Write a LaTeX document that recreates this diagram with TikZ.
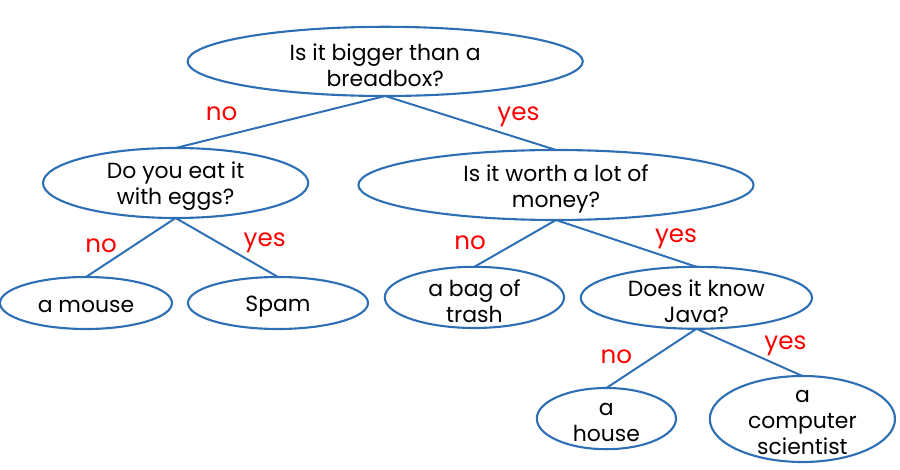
\documentclass[tikz,border=0pt]{standalone}
\usepackage{fontspec}
\setmainfont{Poppins}
\usepackage{tikz}
\usetikzlibrary{shapes.geometric}
\definecolor{qblue}{RGB}{46,110,180}
\definecolor{ansred}{RGB}{255,0,0}

\begin{document}
\begin{tikzpicture}[
  q/.style = {ellipse, draw=qblue, line width=1.5pt, inner sep=0pt, outer sep=0pt},
  txt/.style = {align=center, inner sep=0pt, yshift=-2.5pt, font=\fontsize{15.6}{18.5}\selectfont},
  ans/.style = {text=ansred, font=\fontsize{17.5}{20}\selectfont},
  every label/.style = {txt},
  link/.style = {draw=qblue, line width=1.4pt}]

\useasboundingbox (0,0) rectangle (22.5,11.725);

% Questions
\node[q, minimum width=9.88cm, minimum height=1.73cm, label={center:{Is it bigger than a\\breadbox?}}] (big) at (9.63, 10.19) {};
\node[q, minimum width=6.63cm, minimum height=1.75cm, label={center:{Do you eat it\\with eggs?}}] (eggs) at (4.39, 7.15) {};
\node[q, minimum width=9.88cm, minimum height=1.75cm, label={center:{Is it worth a lot of\\money?}}] (money) at (13.90, 7.10) {};
\node[q, minimum width=5.78cm, minimum height=1.55cm, label={center:{Does it know\\Java?}}] (java) at (17.41, 4.28) {};

% Answers
\node[q, minimum width=4.30cm, minimum height=1.30cm, label={center:{a mouse}}] (mouse) at (2.15, 4.15) {};
\node[q, minimum width=4.50cm, minimum height=1.30cm, label={center:{Spam}}] (spam) at (6.95, 4.15) {};
\node[q, minimum width=4.48cm, minimum height=1.53cm, label={center:{a bag of\\trash}}] (trash) at (11.86, 4.29) {};
\node[q, minimum width=3.48cm, minimum height=1.53cm, label={center:{a\\house}}] (house) at (15.16, 1.26) {};
\node[q, minimum width=4.63cm, minimum height=2.15cm, label={center:{a\\computer\\scientist}}] (sci) at (20.06, 1.25) {};

% Lines
\draw[link] (big.south) -- (eggs.north) node[ans, pos=.78, yshift=16pt] {no};
\draw[link] (big.south) -- (money.north) node[ans, pos=.78, yshift=15pt] {yes};
\draw[link] (eggs.south) -- (mouse.north) node[ans, pos=.83, yshift=15pt] {no};
\draw[link] (eggs.south) -- (spam.north) node[ans, pos=.87, yshift=19pt] {yes};
\draw[link] (money.south) -- (trash.north) node[ans, pos=1, xshift=-3pt, yshift=17pt] {no};
\draw[link] (money.south) -- (java.north) node[ans, pos=.855, yshift=15pt] {yes};
\draw[link] (java.south) -- (house.north) node[ans, pos=.89, yshift=17.5pt] {no};
\draw[link] (java.south) -- (sci.north) node[ans, pos=.84, yshift=16pt] {yes};

\end{tikzpicture}
\end{document}
